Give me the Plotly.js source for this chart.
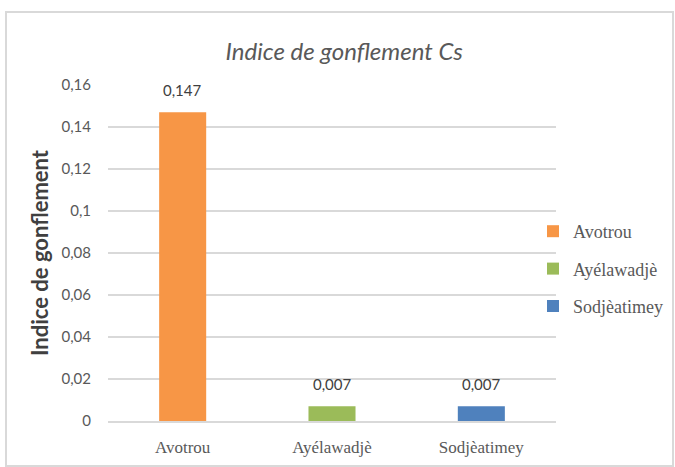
<!DOCTYPE html>
<html>
<head>
<meta charset="utf-8">
<script src="https://cdn.plot.ly/plotly-3.0.1.min.js"></script>
<style>html,body{margin:0;padding:0;background:#fff;}#chart{width:675px;height:467px;}</style>
</head>
<body>
<div id="chart"></div>
<script>
const categories = ["Avotrou", "Ayélawadjè", "Sodjèatimey"];
const values = [0.147, 0.007, 0.007];
const valueLabels = ["0,147", "0,007", "0,007"];
const colors = ["#F79646", "#9BBB59", "#4F81BD"];
const tickVals = [0, 0.02, 0.04, 0.06, 0.08, 0.1, 0.12, 0.14, 0.16];
const tickText = ["0", "0,02", "0,04", "0,06", "0,08", "0,1", "0,12", "0,14", "0,16"];

const traces = categories.map((c, i) => ({
  type: "bar",
  name: c,
  x: [c],
  y: [values[i]],
  marker: {color: colors[i]},
  width: 0.315,
  legendgroup: "g" + i,
  hoverinfo: "x+y"
}));

const annotations = categories.map((c, i) => ({
  x: c, y: values[i], xref: "x", yref: "y",
  text: valueLabels[i], showarrow: false,
  yanchor: "bottom", yshift: 11,
  font: {family: "Lato, Calibri, sans-serif", size: 15, color: "#404040"}
}));

const L = 108, R = 556, T = 85, B = 421, W = 675, H = 467;
const pw = R - L, ph = B - T;

const layout = {
  width: W, height: H,
  margin: {l: L, r: W - R, t: T, b: H - B, pad: 0, autoexpand: false},
  paper_bgcolor: "#fff",
  plot_bgcolor: "#fff",
  barmode: "overlay",
  showlegend: true,
  title: {
    text: "<i>Indice de gonflement Cs</i>",
    font: {family: "Lato, Calibri, sans-serif", size: 24, color: "#595959"},
    x: 0.51, xanchor: "center", y: 1 - 52/H, yanchor: "middle"
  },
  xaxis: {
    categoryorder: "array", categoryarray: categories,
    showgrid: false, zeroline: false,
    showline: true, linecolor: "#d9d9d9", linewidth: 1.5,
    ticks: "", ticklen: 0, ticklabelstandoff: 10,
    tickfont: {family: "Liberation Serif, Times New Roman, serif", size: 17, color: "#595959"},
    fixedrange: true
  },
  yaxis: {
    range: [0, 0.16],
    tickvals: tickVals, ticktext: tickText,
    showgrid: true, gridcolor: "#d9d9d9", gridwidth: 1.5,
    zeroline: false, showline: false,
    ticks: "", ticklabelstandoff: 16,
    tickfont: {family: "Lato, Calibri, sans-serif", size: 15, color: "#595959"},
    title: {
      text: "<b>Indice de gonflement</b>",
      font: {family: "Lato, Calibri, sans-serif", size: 22, color: "#404040"},
      standoff: 6
    },
    fixedrange: true
  },
  annotations: annotations,
  legend: {
    x: (533 - L) / pw, xanchor: "left",
    y: (B - 269) / ph, yanchor: "middle",
    traceorder: "grouped",
    tracegroupgap: 11,
    font: {family: "Liberation Serif, Times New Roman, serif", size: 18, color: "#595959"},
    itemwidth: 30,
    bgcolor: "rgba(0,0,0,0)"
  },
  shapes: [{
    type: "rect", xref: "paper", yref: "paper",
    x0: (6 - L) / pw, x1: (673 - L) / pw,
    y0: (B - 466) / ph, y1: (B - 12) / ph,
    line: {color: "#d9d9d9", width: 2},
    fillcolor: "rgba(0,0,0,0)", layer: "below"
  }],
  separators: ", "
};

Plotly.newPlot("chart", traces, layout, {displayModeBar: false, staticPlot: true});
</script>
</body>
</html>
